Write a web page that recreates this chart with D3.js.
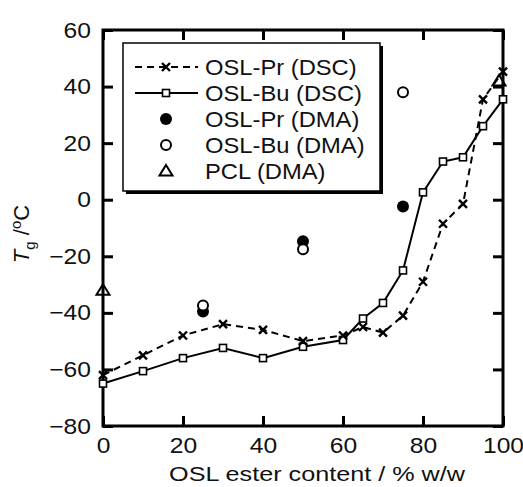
<!DOCTYPE html>
<html>
<head>
<meta charset="utf-8">
<script src="https://cdn.jsdelivr.net/npm/d3@7"></script>
<style>
  body { margin: 0; background: #fff; }
  text { font-family: "Liberation Sans", Arial, sans-serif; fill: #111; }
</style>
</head>
<body>
<svg id="chart" width="523" height="487"></svg>
<script>
// OSL ester content (% w/w) and glass transition temperatures
const xDsc = [0, 10, 20, 30, 40, 50, 60, 65, 70, 75, 80, 85, 90, 95, 100];
const tgPrDsc = [-62, -55, -48, -44, -46, -50, -48, -45, -47, -41, -29, -8.5, -1.5, 35.5, 45.3];
const tgBuDsc = [-65, -60.6, -56, -52.4, -56, -52, -49.6, -42, -36.5, -25, 2.6, 13.5, 15, 26, 35.5];
const xDma = [25, 50, 75];
const tgPrDma = [-39.5, -14.7, -2.4];
const tgBuDma = [-37.4, -17.5, 38];
const xPcl = [0, 99];
const tgPcl = [-32, 42];
const xTicks = [0, 20, 40, 60, 80, 100];
const yTicks = [-80, -60, -40, -20, 0, 20, 40, 60];
const legendLabels = ["OSL-Pr (DSC)", "OSL-Bu (DSC)", "OSL-Pr (DMA)", "OSL-Bu (DMA)", "PCL (DMA)"];

const svg = d3.select("#chart");

const x = d3.scaleLinear().domain([0, 100]).range([103, 503]);
const y = d3.scaleLinear().domain([-80, 60]).range([426, 30]);

// stretch text horizontally around its anchor point
function stretch(sel, k) {
  sel.each(function() {
    const t = d3.select(this);
    const tx = +t.attr("x") || 0, ty = +t.attr("y") || 0;
    t.attr("x", 0).attr("y", 0).attr("transform", `translate(${tx},${ty}) scale(${k},1)`);
  });
}

// axes, ticks pointing inward
const bottom = svg.append("g")
  .attr("transform", `translate(0,${y(-80)})`)
  .call(d3.axisBottom(x).tickValues(xTicks).tickSizeInner(-10).tickSizeOuter(0).tickPadding(11));
const left = svg.append("g")
  .attr("transform", `translate(${x(0)},0)`)
  .call(d3.axisLeft(y).tickValues(yTicks).tickSizeInner(-10).tickSizeOuter(0).tickPadding(12));
svg.append("g")
  .attr("transform", `translate(0,${y(60)})`)
  .call(d3.axisTop(x).tickValues(xTicks).tickSizeInner(-10).tickSizeOuter(0).tickFormat(""));
svg.append("g")
  .attr("transform", `translate(${x(100)},0)`)
  .call(d3.axisRight(y).tickValues(yTicks).tickSizeInner(-10).tickSizeOuter(0).tickFormat(""));

svg.selectAll(".domain").remove();
svg.selectAll(".tick line").attr("stroke", "#000").attr("stroke-width", 3);
svg.selectAll(".tick text").attr("font-size", 22).attr("fill", "#111")
  .style("font-family", '"Liberation Sans", Arial, sans-serif');
stretch(bottom.selectAll(".tick text"), 1.12);
stretch(left.selectAll(".tick text"), 1.12);

svg.append("rect")
  .attr("x", x(0)).attr("y", y(60))
  .attr("width", x(100) - x(0)).attr("height", y(-80) - y(60))
  .attr("fill", "none").attr("stroke", "#000").attr("stroke-width", 3);

// axis titles
const xt = svg.append("text")
  .attr("x", 317).attr("y", 481)
  .attr("text-anchor", "middle").attr("font-size", 21)
  .text("OSL ester content / % w/w");
stretch(xt, 1.2);

const yt = svg.append("text")
  .attr("transform", "translate(29,234) rotate(-90)")
  .attr("text-anchor", "middle").attr("font-size", 22);
yt.append("tspan").attr("font-style", "italic").text("T");
yt.append("tspan").attr("font-size", 15).attr("dy", 6).text("g");
yt.append("tspan").attr("dy", -6).text(" /");
yt.append("tspan").attr("font-size", 15).attr("dy", -8).text("o");
yt.append("tspan").attr("dy", 8).text("C");

// lines
const line = d3.line().x(d => x(d[0])).y(d => y(d[1]));
const prDsc = xDsc.map((v, i) => [v, tgPrDsc[i]]);
const buDsc = xDsc.map((v, i) => [v, tgBuDsc[i]]);

svg.append("path").datum(prDsc).attr("d", line)
  .attr("fill", "none").attr("stroke", "#000").attr("stroke-width", 2)
  .attr("stroke-dasharray", "7,5");
svg.append("path").datum(buDsc).attr("d", line)
  .attr("fill", "none").attr("stroke", "#000").attr("stroke-width", 2);

// marker helpers
const crossPath = "M-4,-4L4,4M-4,4L4,-4";
const trianglePath = "M0,-6L6.5,4.5L-6.5,4.5Z";
function cross(g, cx, cy) {
  g.append("path").attr("d", crossPath).attr("transform", `translate(${cx},${cy})`)
    .attr("stroke", "#000").attr("stroke-width", 2.4).attr("fill", "none");
}
function square(g, cx, cy) {
  g.append("rect").attr("x", cx - 3.5).attr("y", cy - 3.5).attr("width", 7).attr("height", 7)
    .attr("fill", "#fff").attr("stroke", "#000").attr("stroke-width", 1.6);
}
function dot(g, cx, cy, filled) {
  g.append("circle").attr("cx", cx).attr("cy", cy).attr("r", filled ? 6 : 5)
    .attr("fill", filled ? "#000" : "#fff").attr("stroke", "#000").attr("stroke-width", filled ? 0 : 2);
}
function triangle(g, cx, cy, fill) {
  g.append("path").attr("d", trianglePath).attr("transform", `translate(${cx},${cy})`)
    .attr("fill", fill).attr("stroke", "#000").attr("stroke-width", 2);
}

const marks = svg.append("g");
xPcl.forEach((v, i) => triangle(marks, x(v), y(tgPcl[i]), "none"));
buDsc.forEach(d => square(marks, x(d[0]), y(d[1])));
prDsc.forEach(d => cross(marks, x(d[0]), y(d[1])));
xDma.forEach((v, i) => dot(marks, x(v), y(tgPrDma[i]), true));
xDma.forEach((v, i) => dot(marks, x(v), y(tgBuDma[i]), false));

// legend
const lg = svg.append("g");
lg.append("rect").attr("x", 126).attr("y", 46).attr("width", 257).attr("height", 148).attr("fill", "#000");
lg.append("rect").attr("x", 123).attr("y", 43).attr("width", 257).attr("height", 148)
  .attr("fill", "#fff").attr("stroke", "#000").attr("stroke-width", 1.5);

const rowY = i => 67 + 26 * i;
legendLabels.forEach((lab, i) => {
  const cy = rowY(i);
  if (i === 0) {
    lg.append("line").attr("x1", 135).attr("x2", 198).attr("y1", cy).attr("y2", cy)
      .attr("stroke", "#000").attr("stroke-width", 2).attr("stroke-dasharray", "7,5");
    cross(lg, 166, cy);
  } else if (i === 1) {
    lg.append("line").attr("x1", 135).attr("x2", 198).attr("y1", cy).attr("y2", cy)
      .attr("stroke", "#000").attr("stroke-width", 2);
    square(lg, 166, cy);
  } else if (i === 2) dot(lg, 166, cy, true);
  else if (i === 3) dot(lg, 166, cy, false);
  else triangle(lg, 166, cy, "#fff");
  const t = lg.append("text").attr("x", 205).attr("y", cy + 8).attr("font-size", 22).text(lab);
  stretch(t, 1.08);
});
</script>
</body>
</html>
